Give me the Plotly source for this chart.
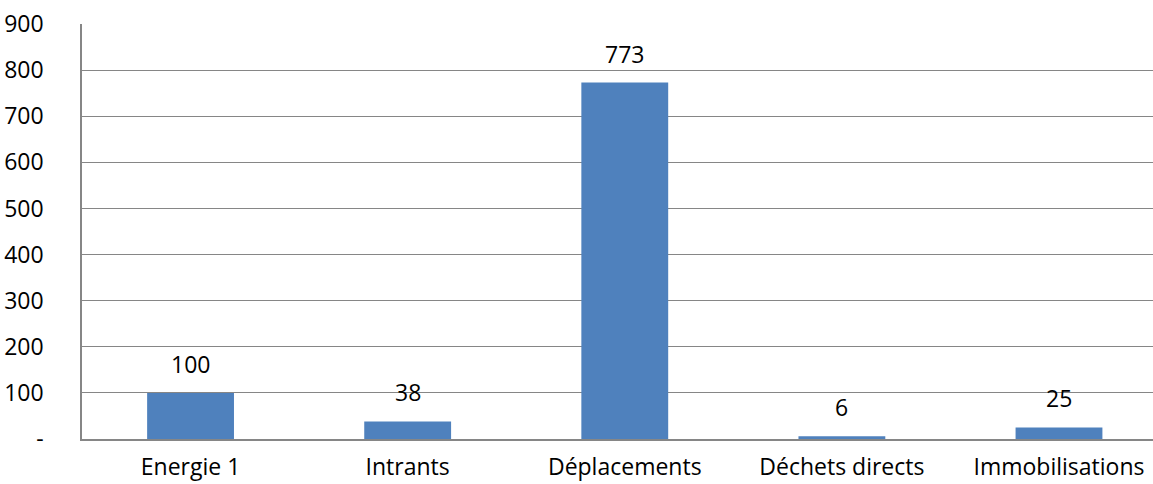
import plotly.graph_objects as go

categories = ["Energie 1", "Intrants", "Déplacements", "Déchets directs", "Immobilisations"]
values = [100, 38, 773, 6, 25]
y_tickvals = [0, 100, 200, 300, 400, 500, 600, 700, 800, 900]
y_ticktext = ["-", "100", "200", "300", "400", "500", "600", "700", "800", "900"]

FONT = "Open Sans"
GRID = "#868686"
FS = 23

fig = go.Figure()
fig.add_trace(go.Bar(x=list(range(len(categories))), y=values, marker_color="#4F81BD",
                     marker_line_width=0, width=0.4))

for i, v in enumerate(values):
    fig.add_annotation(x=i, y=v, text=str(v), showarrow=False, yshift=29,
                       font=dict(family=FONT, size=FS, color="#000000"))

fig.update_layout(
    width=1153, height=484,
    margin=dict(l=82, r=0, t=24, b=45),
    plot_bgcolor="white", paper_bgcolor="white",
    showlegend=False,
    font=dict(family=FONT, size=FS, color="#000000"),
    xaxis=dict(range=[-0.5, 4.433], tickvals=list(range(len(categories))), ticktext=categories,
               showgrid=False, showline=True, linecolor=GRID, linewidth=1.5,
               ticks="", ticklabelstandoff=7, zeroline=False, automargin=False),
    yaxis=dict(range=[0, 900], tickvals=y_tickvals, ticktext=y_ticktext,
               showgrid=True, gridcolor=GRID, gridwidth=1.2,
               showline=True, linecolor=GRID, linewidth=1.5,
               ticks="", ticklabelstandoff=32, zeroline=False, automargin=False),
)

fig.write_html("out.html")
